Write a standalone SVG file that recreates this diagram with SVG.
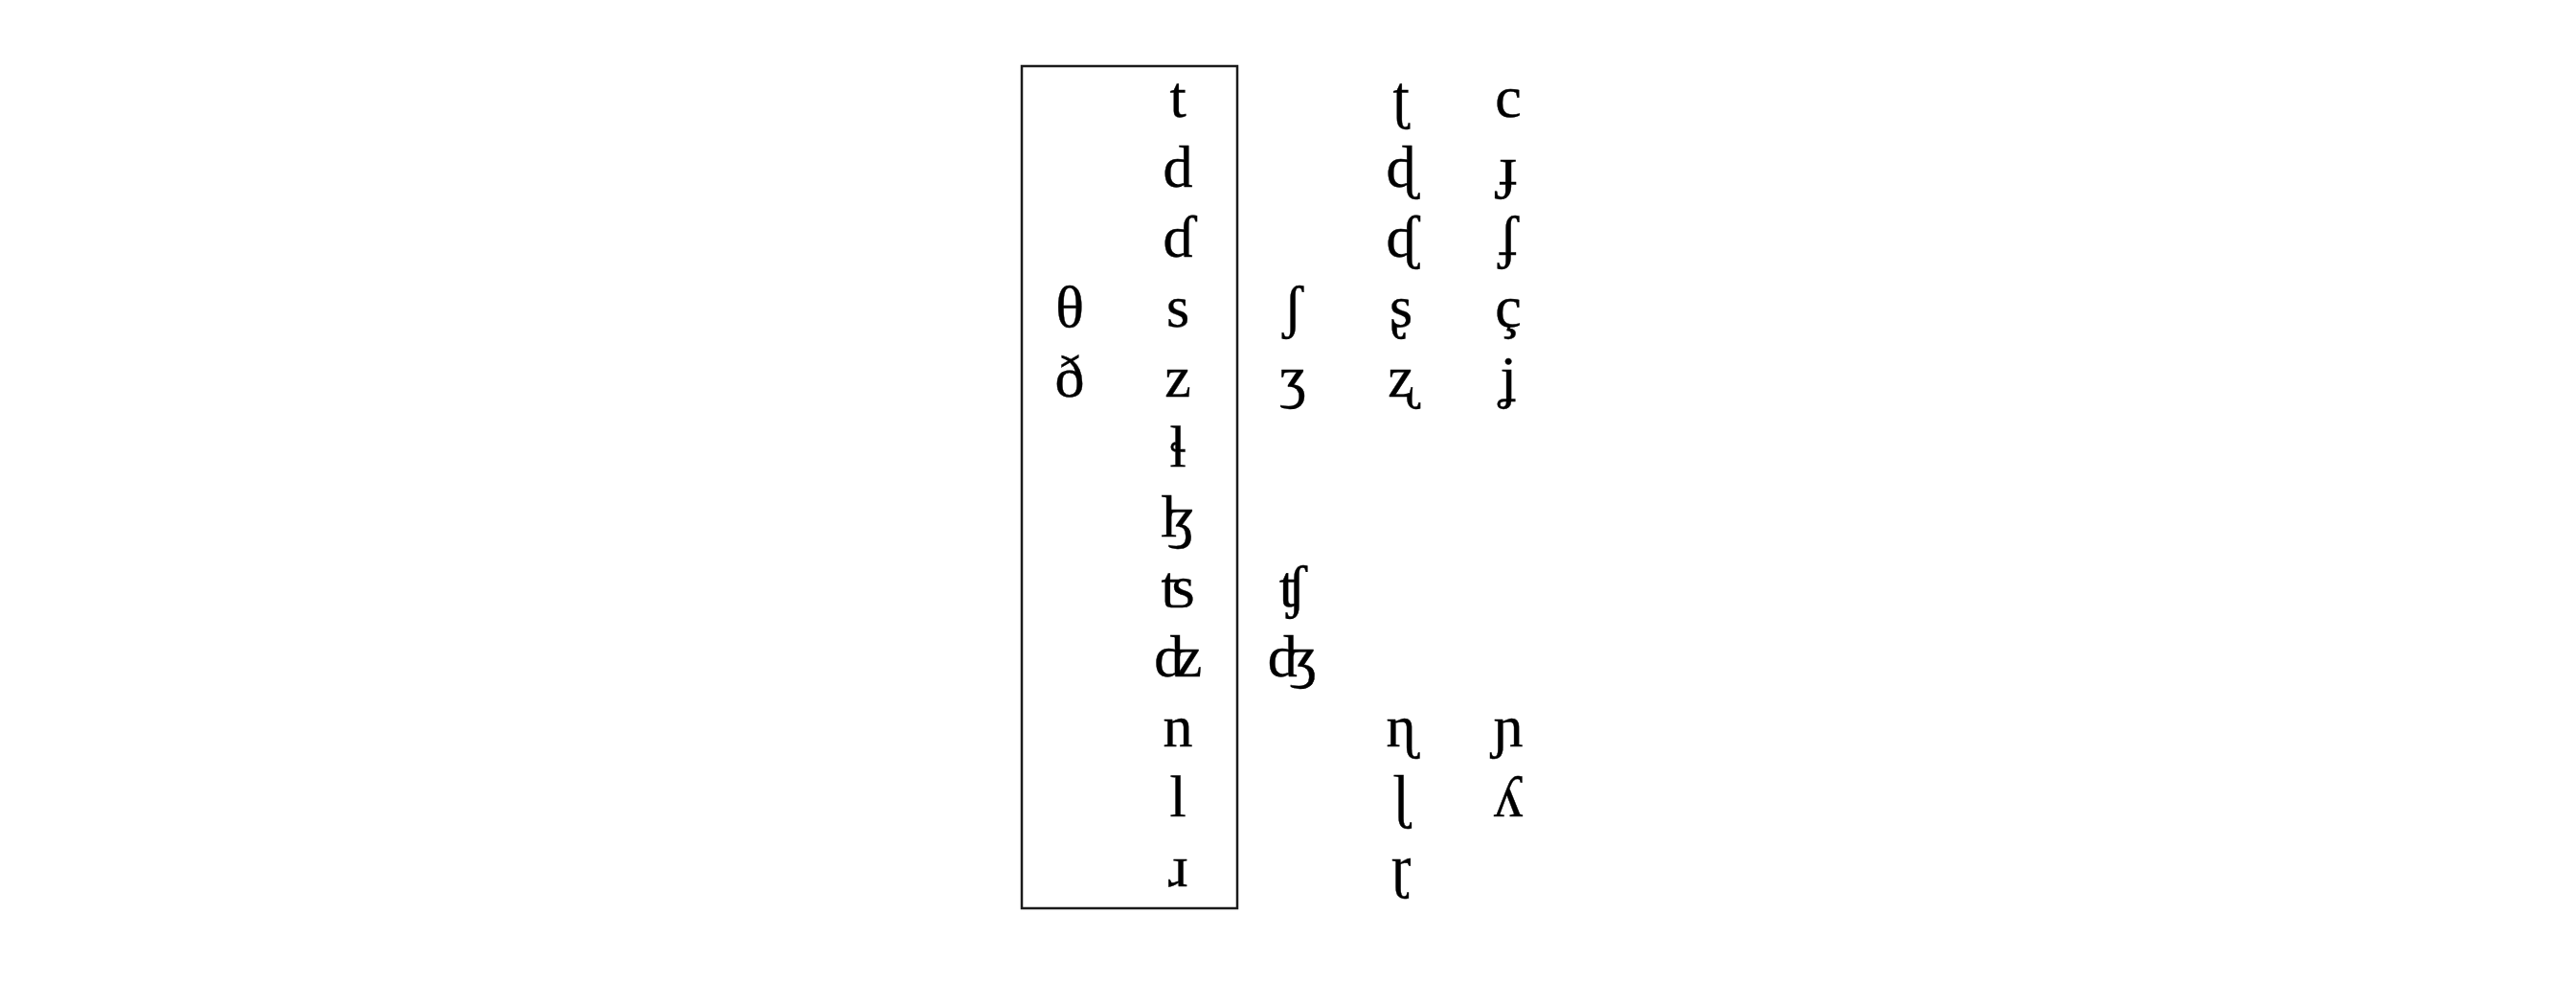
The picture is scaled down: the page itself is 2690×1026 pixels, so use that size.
<svg xmlns="http://www.w3.org/2000/svg" width="2690" height="1026" viewBox="0 0 2690 1026">
<style>
.ipa{font-family:"Liberation Serif","DejaVu Serif","Noto Sans",serif;font-size:62px;fill:#000;stroke:#000;stroke-width:0.4;text-anchor:middle}
.frame{fill:none;stroke:#1a1a1a;stroke-width:2.5}
</style>
<rect x="0" y="0" width="2690" height="1026" fill="#fff"/>
<g id="frame"><rect class="frame" x="1067" y="69" width="225" height="879"/></g>
<g id="col-dental">
<g id="n-theta"><text class="ipa" x="1117" y="341">θ</text></g>
<g id="n-eth"><text class="ipa" x="1117" y="414">ð</text></g>
</g>
<g id="col-alveolar">
<g id="n-t"><text class="ipa" x="1230" y="122">t</text></g>
<g id="n-d"><text class="ipa" x="1230" y="195">d</text></g>
<g id="n-dimpl"><text class="ipa" x="1230" y="268">ɗ</text></g>
<g id="n-s"><text class="ipa" x="1230" y="341">s</text></g>
<g id="n-z"><text class="ipa" x="1230" y="414">z</text></g>
<g id="n-lbelt"><text class="ipa" x="1230" y="487">ɬ</text></g>
<g id="n-lezh"><text class="ipa" x="1230" y="560">ɮ</text></g>
<g id="n-ts"><text class="ipa" x="1230" y="633">ʦ</text></g>
<g id="n-dz"><text class="ipa" x="1230" y="706">ʣ</text></g>
<g id="n-n"><text class="ipa" x="1230" y="779">n</text></g>
<g id="n-l"><text class="ipa" x="1230" y="852">l</text></g>
<g id="n-r"><text class="ipa" x="1230" y="925">ɹ</text></g>
</g>
<g id="col-postalveolar">
<g id="n-esh"><text class="ipa" x="1350" y="341">ʃ</text></g>
<g id="n-ezh"><text class="ipa" x="1350" y="414">ʒ</text></g>
<g id="n-tesh"><text class="ipa" x="1350" y="633">ʧ</text></g>
<g id="n-dezh"><text class="ipa" x="1350" y="706">ʤ</text></g>
</g>
<g id="col-retroflex">
<g id="n-tretro"><text class="ipa" x="1463" y="122">ʈ</text></g>
<g id="n-dretro"><text class="ipa" x="1463" y="195">ɖ</text></g>
<g id="n-dhooktail"><text class="ipa" x="1463" y="268">ᶑ</text></g>
<g id="n-sretro"><text class="ipa" x="1463" y="341">ʂ</text></g>
<g id="n-zretro"><text class="ipa" x="1463" y="414">ʐ</text></g>
<g id="n-nretro"><text class="ipa" x="1463" y="779">ɳ</text></g>
<g id="n-lretro"><text class="ipa" x="1463" y="852">ɭ</text></g>
<g id="n-rretro"><text class="ipa" x="1463" y="925">ɽ</text></g>
</g>
<g id="col-palatal">
<g id="n-c"><text class="ipa" x="1575" y="122">c</text></g>
<g id="n-jbar"><text class="ipa" x="1575" y="195">ɟ</text></g>
<g id="n-jimpl"><text class="ipa" x="1575" y="268">ʄ</text></g>
<g id="n-ccedil"><text class="ipa" x="1575" y="341">ç</text></g>
<g id="n-jcurl"><text class="ipa" x="1575" y="414">ʝ</text></g>
<g id="n-npal"><text class="ipa" x="1575" y="779">ɲ</text></g>
<g id="n-turnedy"><text class="ipa" x="1575" y="852">ʎ</text></g>
</g>
<g id="connectors"/>
</svg>
